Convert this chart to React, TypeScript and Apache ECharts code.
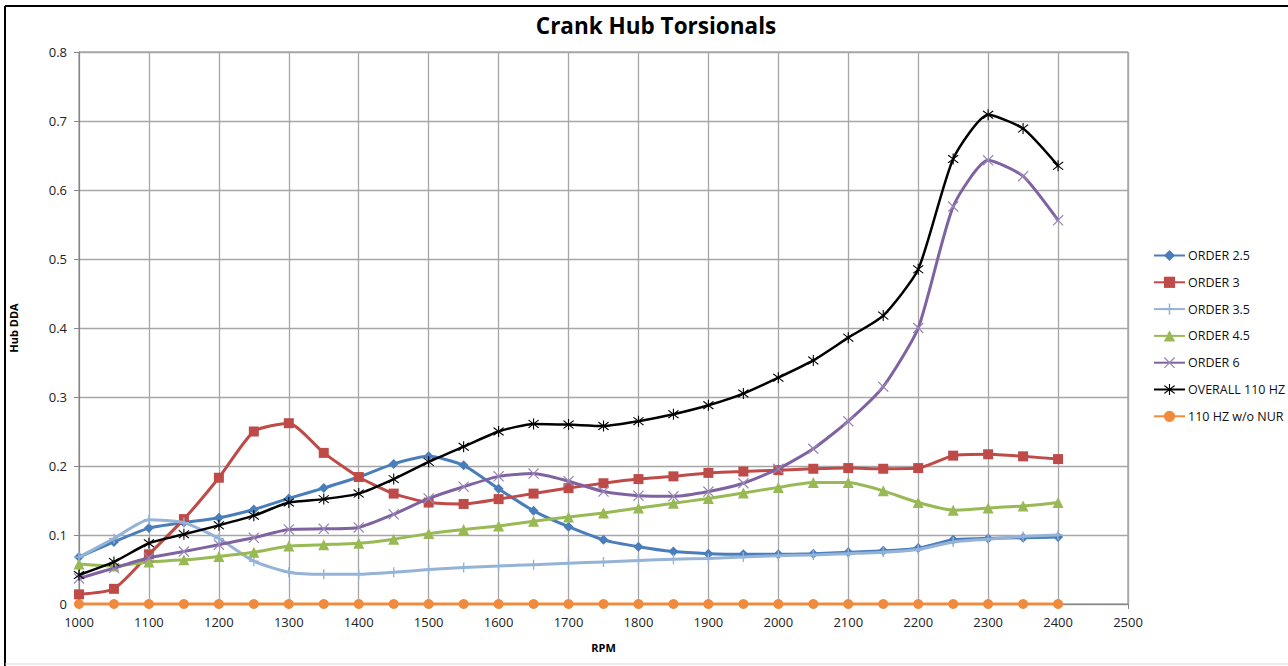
import React, { useEffect, useRef } from "react";
import * as echarts from "echarts";

const rpm = [1000, 1050, 1100, 1150, 1200, 1250, 1300, 1350, 1400, 1450, 1500, 1550, 1600, 1650, 1700, 1750, 1800, 1850, 1900, 1950, 2000, 2050, 2100, 2150, 2200, 2250, 2300, 2350, 2400];

const order25 = [0.068, 0.09, 0.11, 0.118, 0.125, 0.137, 0.153, 0.168, 0.184, 0.203, 0.214, 0.201, 0.167, 0.135, 0.112, 0.093, 0.083, 0.076, 0.073, 0.072, 0.072, 0.073, 0.075, 0.077, 0.081, 0.093, 0.095, 0.096, 0.097];
const order3 = [0.014, 0.022, 0.072, 0.123, 0.183, 0.25, 0.262, 0.219, 0.184, 0.16, 0.147, 0.145, 0.152, 0.16, 0.168, 0.175, 0.181, 0.185, 0.19, 0.192, 0.194, 0.196, 0.197, 0.196, 0.197, 0.215, 0.217, 0.214, 0.21];
const order35 = [0.068, 0.095, 0.122, 0.118, 0.095, 0.062, 0.046, 0.043, 0.043, 0.046, 0.05, 0.053, 0.055, 0.057, 0.059, 0.061, 0.063, 0.065, 0.066, 0.068, 0.07, 0.071, 0.073, 0.075, 0.079, 0.09, 0.094, 0.098, 0.1];
const order45 = [0.058, 0.055, 0.061, 0.064, 0.069, 0.075, 0.084, 0.086, 0.088, 0.094, 0.102, 0.108, 0.113, 0.12, 0.126, 0.132, 0.139, 0.146, 0.153, 0.161, 0.169, 0.176, 0.176, 0.164, 0.147, 0.136, 0.139, 0.142, 0.147];
const order6 = [0.037, 0.052, 0.067, 0.076, 0.086, 0.096, 0.108, 0.109, 0.111, 0.13, 0.153, 0.17, 0.185, 0.189, 0.178, 0.163, 0.157, 0.156, 0.163, 0.175, 0.196, 0.225, 0.265, 0.315, 0.4, 0.576, 0.643, 0.62, 0.556];
const overall110 = [0.042, 0.061, 0.088, 0.101, 0.114, 0.128, 0.147, 0.152, 0.16, 0.181, 0.206, 0.228, 0.25, 0.261, 0.26, 0.258, 0.265, 0.275, 0.288, 0.305, 0.328, 0.353, 0.386, 0.418, 0.485, 0.645, 0.709, 0.689, 0.635];
const hz110NoNur = [0, 0, 0, 0, 0, 0, 0, 0, 0, 0, 0, 0, 0, 0, 0, 0, 0, 0, 0, 0, 0, 0, 0, 0, 0, 0, 0, 0, 0];

const seriesNames = ["ORDER 2.5", "ORDER 3", "ORDER 3.5", "ORDER 4.5", "ORDER 6", "OVERALL 110 HZ", "110 HZ w/o NUR"];

const PLUS = "path://M4.3,0h1.4v4.3h4.3v1.4h-4.3v4.3h-1.4v-4.3h-4.3v-1.4h4.3z";
const CROSS = "path://M0,0.8L0.8,0L5,4.2L9.2,0L10,0.8L5.8,5L10,9.2L9.2,10L5,5.8L0.8,10L0,9.2L4.2,5Z";
const STAR = "path://M0,0.8L0.8,0L5,4.2L9.2,0L10,0.8L5.8,5L10,9.2L9.2,10L5,5.8L0.8,10L0,9.2L4.2,5Z M4.5,-1.5h1v13h-1z";

export default function App() {
  const ref = useRef<HTMLDivElement>(null);
  useEffect(() => {
    document.body.style.margin = "0";
    const chart = echarts.init(ref.current!, null, { renderer: "svg" });
    const font = "'Open Sans', 'Noto Sans', sans-serif";
    const mk = (name: string, data: number[], color: string, symbol: string, size: any, width: number, z: number, symColor?: string) => ({
      name,
      type: "line",
      data: rpm.map((r, i) => [r, data[i]]),
      symbol,
      symbolSize: size,
      smooth: 0.2,
      z,
      lineStyle: { color, width },
      itemStyle: { color: symColor || color, borderWidth: 0 },
    });
    chart.setOption({
      animation: false,
      backgroundColor: "#fff",
      textStyle: { fontFamily: font },
      title: {
        text: "Crank Hub Torsionals",
        left: 651,
        top: 9,
        textAlign: "center",
        textStyle: { fontFamily: font, fontSize: 22.5, fontWeight: "bold", color: "#000" },
      },
      grid: { left: 79, top: 52, width: 1049, height: 552, show: true, borderColor: "#7f7f7f", borderWidth: 1, containLabel: false },
      legend: {
        orient: "vertical",
        left: 1148,
        top: 244,
        itemWidth: 31,
        itemHeight: 14,
        itemGap: 13.8,
        textStyle: { fontFamily: font, fontSize: 12.5, color: "#111", padding: [0, 0, 0, -2] },
        data: seriesNames,
      },
      xAxis: {
        type: "value",
        min: 1000,
        max: 2500,
        interval: 100,
        name: "RPM",
        nameLocation: "middle",
        nameGap: 38,
        nameTextStyle: { fontFamily: font, fontSize: 11, fontWeight: "bold", color: "#000" },
        axisLine: { show: true, lineStyle: { color: "#868686", width: 1 } },
        axisTick: { show: true, length: 5, lineStyle: { color: "#868686" } },
        axisLabel: { fontFamily: font, fontSize: 13, color: "#222", margin: 11, formatter: (v: number) => String(v) },
        splitLine: { show: true, lineStyle: { color: "#a6a6a6", width: 1.3 } },
      },
      yAxis: {
        type: "value",
        min: 0,
        max: 0.8,
        interval: 0.1,
        name: "Hub DDA",
        nameLocation: "middle",
        nameGap: 60,
        nameTextStyle: { fontFamily: font, fontSize: 11, fontWeight: "bold", color: "#000" },
        axisLine: { show: true, lineStyle: { color: "#868686", width: 1 } },
        axisTick: { show: true, length: 5, lineStyle: { color: "#868686" } },
        axisLabel: { fontFamily: font, fontSize: 13, color: "#222", margin: 12 },
        splitLine: { show: true, lineStyle: { color: "#a6a6a6", width: 1.3 } },
      },
      graphic: [
        { type: "line", shape: { x1: 5, y1: 6, x2: 1288, y2: 6 }, style: { stroke: "#000", lineWidth: 2 } },
        { type: "line", shape: { x1: 5, y1: 6, x2: 5, y2: 666 }, style: { stroke: "#000", lineWidth: 2 } },
        { type: "line", shape: { x1: 5, y1: 664, x2: 1288, y2: 664 }, style: { stroke: "#d9d9d9", lineWidth: 1 } },
      ],
      series: [
        mk(seriesNames[0], order25, "#4a7ebb", "diamond", 10, 3, 2),
        mk(seriesNames[1], order3, "#be4b48", "rect", 10, 3, 3),
        mk(seriesNames[2], order35, "#95b3d7", PLUS, 10, 3, 4),
        mk(seriesNames[3], order45, "#98b954", "triangle", 11, 3, 5),
        mk(seriesNames[4], order6, "#7f63a1", CROSS, 11, 3, 6, "#9a86b8"),
        mk(seriesNames[5], overall110, "#000000", STAR, 11, 2.5, 7),
        mk(seriesNames[6], hz110NoNur, "#f08a3c", "circle", 10, 3, 1),
      ],
    });
    return () => chart.dispose();
  }, []);
  return <div ref={ref} style={{ width: 1288, height: 666 }} />;
}
